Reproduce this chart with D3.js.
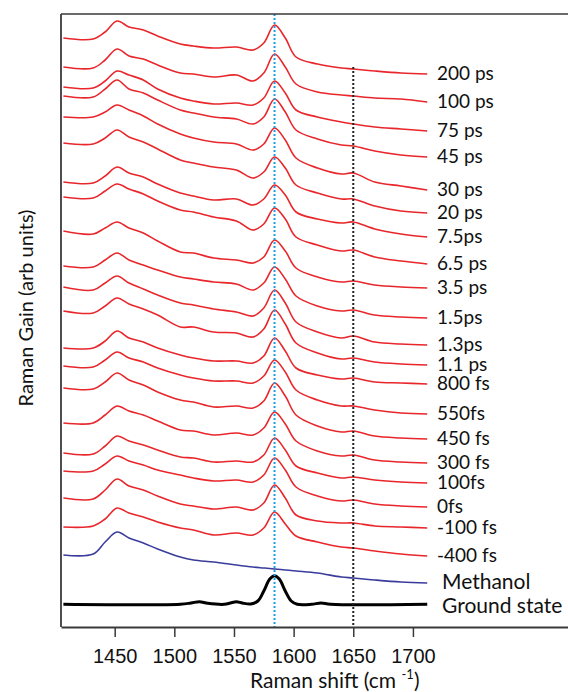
<!DOCTYPE html>
<html><head><meta charset="utf-8">
<script src="https://cdn.jsdelivr.net/npm/d3@7"></script>
<style>body{margin:0;background:#fff}svg{display:block}</style>
</head><body><svg id="c" width="568" height="692"></svg>
<script>
// Raman shift sample positions (cm-1) for the time-resolved and methanol traces
const shifts = [1407, 1432, 1442, 1452, 1462, 1474, 1486, 1505, 1516, 1533, 1552, 1566, 1575, 1584, 1593, 1602, 1620, 1640, 1650, 1668, 1690, 1712];
const delayLabels = ["200 ps","100 ps","75 ps","45 ps","30 ps","20 ps","7.5ps","6.5 ps","3.5 ps","1.5ps","1.3ps","1.1 ps","800 fs","550fs","450 fs","300 fs","100fs","0fs","-100 fs","-400 fs"];
// Raman gain (arb units, offset stacked)
const t200ps = [589,588,595,606,600,597,591,583,581,579,580,577,584,602,589,570,563,559,558,556,554,553];
const t100ps = [560,559,567,578,571,568,562,554,553,550,552,546,554,573,560,543,535,532,531,529,528,525];
const t75ps  = [540,539,546,556,552,547,538,529,526,523,524,522,529,546,534,517,510,505,503,500,498,496];
const t45ps  = [531,530,538,547,538,534,527,517,514,510,508,503,510,528,515,497,488,482,481,476,472,470];
const t30ps  = [510,510,515,522,517,511,503,493,489,485,483,477,483,499,487,469,459,453,454,445,441,437];
const t20ps  = [484,483,489,497,490,485,478,467,464,460,457,449,455,470,459,442,434,428,428,421,416,414];
const t7p5ps = [445,444,451,460,454,450,443,434,431,427,428,422,428,442,432,415,408,404,405,398,393,390];
const t6p5ps = [430,429,436,443,438,433,426,417,415,410,406,397,403,419,408,390,382,376,377,370,366,363];
const t3p5ps = [396,393,399,405,399,394,386,375,374,369,367,364,370,387,376,359,350,345,346,342,340,339];
const t1p5ps = [361,360,367,374,367,362,357,350,348,345,343,337,344,360,348,331,321,316,317,312,310,309];
const t1p3ps = [340,337,344,351,344,338,332,324,322,318,315,311,319,337,324,305,295,289,291,285,283,282];
const t1p1ps = [316,314,321,329,323,318,312,300,300,295,294,290,298,317,303,284,274,268,269,265,263,262];
const t800fs = [279,279,286,296,289,285,279,272,269,266,266,264,271,289,276,259,252,248,249,245,244,243];
const t550fs = [261,260,267,275,269,265,259,252,249,246,246,244,251,267,255,237,227,221,221,217,214,213];
const t450fs = [239,238,245,254,247,242,235,227,225,220,221,219,226,244,231,212,201,195,196,191,189,188];
const t300fs = [204,204,212,221,216,212,206,197,196,192,194,192,199,215,203,186,176,171,172,167,165,164];
const t100fs = [174,173,181,191,186,182,177,170,169,165,166,165,172,189,177,161,154,149,150,147,145,144];
const t0fs   = [156,156,163,171,166,162,157,152,149,146,147,145,152,169,157,140,131,126,127,123,121,120];
const tm100fs= [129,128,137,148,141,137,131,123,121,118,120,117,124,142,129,112,106,104,104,101,100,99];
const tm400fs= [100,101,108,119,114,110,105,99,97,92,94,92,99,115,103,91,85,80,79,76,73,71];
const methanol = [72,73,85,95,89,84,78,70,67,65,62,60,59,58,57,56,54,50,49,47,45,44];
// Ground state spectrum
const gsShifts = [1407,1505,1514,1521,1528,1542,1547,1552,1557,1564,1570,1575,1580,1584,1588,1593,1598,1603,1615,1623,1631,1712];
const groundState = [22.7,22.7,24,25.3,23.7,22.7,24,25.3,24,23,26,36,48,51.3,48,36,26,22.7,22.7,24,22.7,22.7];
const xTicks = [1450,1500,1550,1600,1650,1700];
const markerShifts = [1584, 1650];
const markerTops = [613, 560];

const spectra = [t200ps,t100ps,t75ps,t45ps,t30ps,t20ps,t7p5ps,t6p5ps,t3p5ps,t1p5ps,t1p3ps,t1p1ps,t800fs,t550fs,t450fs,t300fs,t100fs,t0fs,tm100fs,tm400fs];

const svg = d3.select('#c');
const x = d3.scaleLinear().domain([1405, 1830]).range([61, 568]);
const y = d3.scaleLinear().domain([0, 613]).range([627, 14]);

const line = d3.line().x((d,i)=>x(shifts[i])).y(d=>y(d)).curve(d3.curveCatmullRom.alpha(0.5));
const gsLine = d3.line().x((d,i)=>x(gsShifts[i])).y(d=>y(d)).curve(d3.curveCatmullRom.alpha(0.5));

// traces
svg.append('g').selectAll('path').data(spectra).join('path')
  .attr('d', d=>line(d)).attr('fill','none').attr('stroke','#e8262b').attr('stroke-width',1.6);
svg.append('path').attr('d', line(methanol)).attr('fill','none').attr('stroke','#3a3c9c').attr('stroke-width',1.6);
svg.append('path').attr('d', gsLine(groundState)).attr('fill','none').attr('stroke','#000').attr('stroke-width',3);

// marker lines
const markerColors = ['#1e9ee0', '#222'];
markerShifts.forEach((s,i)=>{
  svg.append('line').attr('x1',x(s)).attr('x2',x(s)).attr('y1',y(markerTops[i])).attr('y2',y(0))
    .attr('stroke',markerColors[i]).attr('stroke-width',2).attr('stroke-dasharray','2,2');
});

// frame
svg.append('line').attr('x1',x(1405)).attr('x2',x(1830)).attr('y1',y(613)).attr('y2',y(613)).attr('stroke','#3a3a3a').attr('stroke-width',1.6);
svg.append('line').attr('x1',x(1405)).attr('x2',x(1405)).attr('y1',y(613)).attr('y2',y(0)).attr('stroke','#3a3a3a').attr('stroke-width',1.8);

const ax = svg.append('g').attr('transform',`translate(0,${y(0)})`)
  .call(d3.axisBottom(x).tickValues(xTicks).tickSize(10).tickSizeOuter(0).tickPadding(12).tickFormat(d3.format('d')));
ax.select('.domain').attr('stroke','#3a3a3a').attr('stroke-width',1.8);
ax.selectAll('.tick line').attr('stroke','#3a3a3a').attr('stroke-width',1.5);
ax.selectAll('.tick text').attr('font-family','"Liberation Sans", Arial, sans-serif').attr('font-size',20).attr('fill','#111');

// labels
const lblFont = 'Lato, "Open Sans", sans-serif';
svg.append('g').selectAll('text').data(spectra).join('text')
  .attr('x', 437).attr('y', d=>y(d[d.length-1])).attr('dy','0.33em')
  .attr('font-family', lblFont).attr('font-size', 19).attr('fill','#111')
  .text((d,i)=>delayLabels[i]);
svg.append('text').attr('x',442).attr('y',y(methanol[methanol.length-1])).attr('dy','0.3em')
  .attr('font-family', lblFont).attr('font-size', 21).attr('fill','#111').text('Methanol');
svg.append('text').attr('x',442).attr('y',y(groundState[groundState.length-1])).attr('dy','0.4em')
  .attr('font-family', lblFont).attr('font-size', 21).attr('fill','#111').text('Ground state');

// axis titles
const xt = svg.append('text').attr('x', 250).attr('y', 688)
  .attr('font-family', lblFont).attr('font-size', 21).attr('fill','#111');
xt.append('tspan').text('Raman shift (cm ');
xt.append('tspan').attr('font-size', 13).attr('dy', -9).text('-1');
xt.append('tspan').attr('dy', 9).text(')');

svg.append('text').attr('transform','translate(33,308) rotate(-90)').attr('text-anchor','middle')
  .attr('font-family', lblFont).attr('font-size', 20).attr('fill','#111').text('Raman Gain (arb units)');
</script></body></html>
